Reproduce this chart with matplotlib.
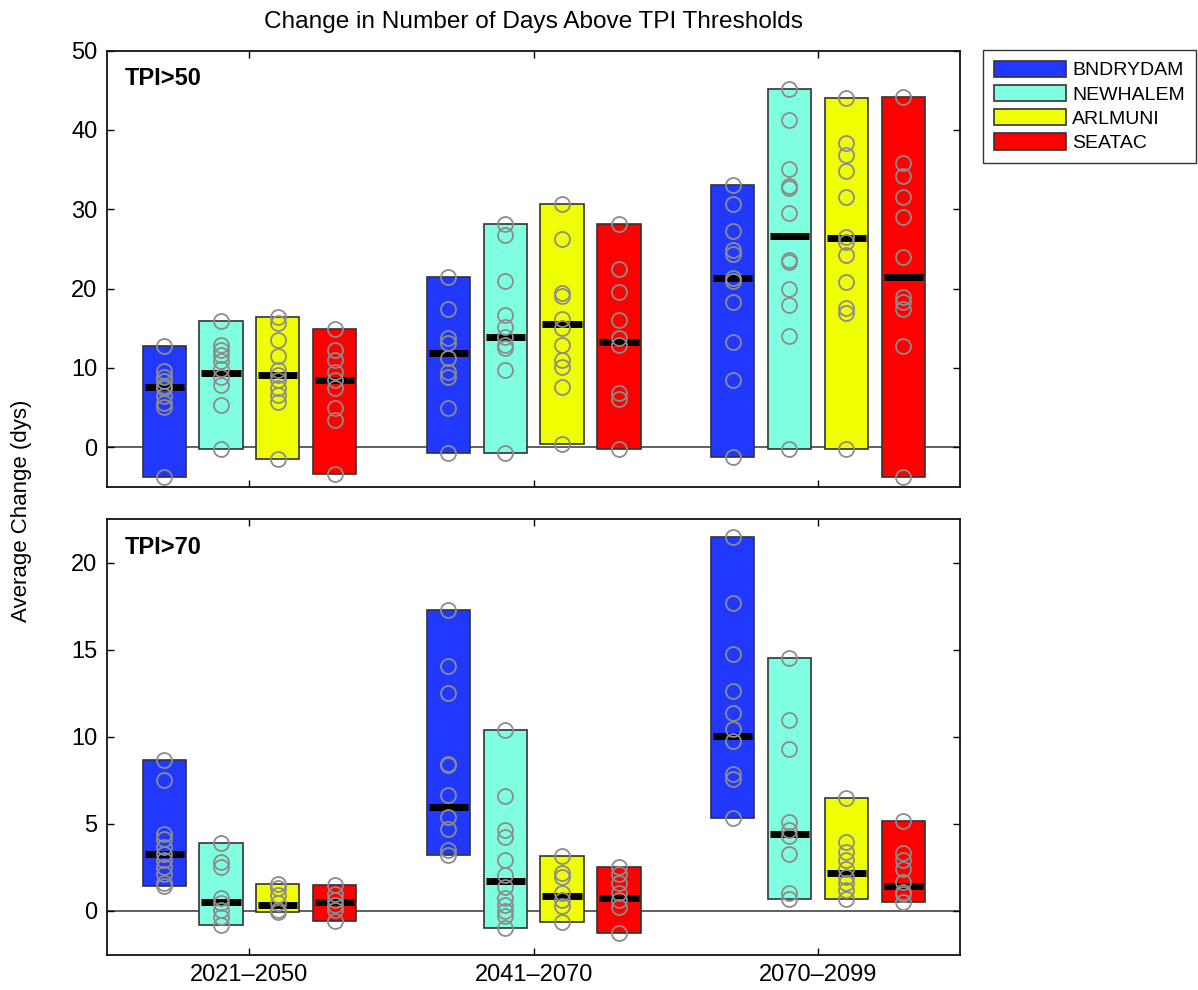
import matplotlib
matplotlib.use("Agg")
import matplotlib.pyplot as plt
from matplotlib.patches import Patch
import numpy as np

plt.rcParams['font.family'] = ['Liberation Sans', 'DejaVu Sans']

# ---------------- data ----------------
periods = ["2021\u20132050", "2041\u20132070", "2070\u20132099"]
stations = ["BNDRYDAM", "NEWHALEM", "ARLMUNI", "SEATAC"]
colors = ["#2138ff", "#7fffdf", "#f0ff00", "#ff0000"]

# TPI > 50 : individual model values per period
bndrydam_tpi50 = [
    [12.8, 9.6, 8.8, 8.3, 7.7, 7.4, 6.5, 5.5, 5.0, -3.8],
    [21.4, 17.4, 13.7, 13.1, 11.2, 9.5, 8.9, 4.9, -0.7],
    [33.1, 30.7, 27.3, 24.8, 24.4, 21.3, 21.0, 18.3, 13.2, 8.4, -1.3],
]
newhalem_tpi50 = [
    [15.9, 12.9, 12.2, 11.6, 10.8, 9.9, 8.9, 7.8, 5.3, -0.3],
    [28.2, 26.7, 21.0, 16.7, 15.2, 13.9, 12.9, 12.5, 9.7, -0.7],
    [45.2, 41.2, 35.1, 32.9, 32.7, 29.5, 23.6, 23.3, 19.9, 17.9, 14.0, -0.2],
]
arlmuni_tpi50 = [
    [16.4, 15.6, 13.5, 11.5, 9.7, 9.1, 8.5, 7.4, 6.6, 5.7, -1.5],
    [30.7, 26.3, 19.4, 19.0, 16.2, 15.0, 12.9, 11.0, 10.1, 7.6, 0.4],
    [44.0, 38.3, 36.9, 34.8, 31.6, 26.5, 25.9, 24.2, 20.8, 17.6, 16.9, -0.2],
]
seatac_tpi50 = [
    [14.9, 12.2, 11.0, 9.5, 8.5, 7.5, 4.9, 3.4, -3.4],
    [28.1, 22.4, 19.6, 16.0, 13.7, 12.9, 6.8, 6.1, -0.3],
    [44.2, 35.8, 34.2, 31.6, 29.0, 24.0, 18.9, 18.3, 17.4, 12.7, -3.8],
]
median_tpi50 = [
    [7.6, 11.9, 21.3],   # BNDRYDAM
    [9.4, 13.9, 26.6],   # NEWHALEM
    [9.1, 15.5, 26.4],   # ARLMUNI
    [8.5, 13.2, 21.5],   # SEATAC
]

# TPI > 70
bndrydam_tpi70 = [
    [8.7, 7.5, 4.4, 4.15, 3.7, 3.3, 2.9, 2.5, 2.15, 1.6, 1.45],
    [17.3, 14.06, 12.53, 8.44, 8.4, 6.67, 5.39, 4.72, 3.49, 3.2],
    [21.5, 17.68, 14.76, 12.63, 11.39, 10.44, 9.77, 7.87, 7.58, 5.35],
]
newhalem_tpi70 = [
    [3.9, 2.8, 2.5, 0.72, 0.44, 0.06, -0.32, -0.8],
    [10.4, 6.63, 4.63, 4.25, 2.91, 2.06, 1.39, 0.72, 0.34, 0.0, -0.3, -0.97],
    [14.53, 10.95, 9.3, 5.1, 4.63, 4.29, 3.3, 1.05, 0.69],
]
arlmuni_tpi70 = [
    [1.55, 1.3, 0.91, 0.44, 0.06, -0.08],
    [3.18, 2.21, 1.96, 1.01, 0.63, 0.3, -0.61],
    [6.5, 3.96, 3.39, 2.91, 2.44, 1.96, 1.58, 1.2, 0.69],
]
seatac_tpi70 = [
    [1.5, 1.0, 0.63, 0.34, 0.06, -0.55],
    [2.55, 2.15, 1.58, 1.01, 0.63, 0.25, -1.28],
    [5.16, 3.33, 2.91, 2.44, 1.68, 1.1, 1.0, 0.53],
]
median_tpi70 = [
    [3.3, 6.0, 10.06],
    [0.5, 1.73, 4.44],
    [0.36, 0.84, 2.21],
    [0.5, 0.72, 1.45],
]

panels = [
    ("TPI>50", [bndrydam_tpi50, newhalem_tpi50, arlmuni_tpi50, seatac_tpi50],
     median_tpi50, (-5, 50), [0, 10, 20, 30, 40, 50]),
    ("TPI>70", [bndrydam_tpi70, newhalem_tpi70, arlmuni_tpi70, seatac_tpi70],
     median_tpi70, (-2.5, 22.5), [0, 5, 10, 15, 20]),
]

# ---------------- plot ----------------
W, H = 1198, 990
fig = plt.figure(figsize=(W / 100, H / 100), dpi=100)

ax_rects = [
    [107.3 / W, 1 - 486.7 / H, 852.7 / W, 436.0 / H],
    [107.3 / W, 1 - 954.5 / H, 852.7 / W, 435.2 / H],
]

group_x = np.arange(1, len(periods) + 1)
offsets = [-0.3, -0.1, 0.1, 0.3]
bar_w = 0.152
med_half = 0.069
edge_col = "#333333"
circ_col = "#8c8c8c"
fs = 17

for pi, (label, station_data, medians, ylim, yticks) in enumerate(panels):
    ax = fig.add_axes(ax_rects[pi])
    ax.axhline(0, color="#444444", lw=1.2, zorder=1)
    for si, data in enumerate(station_data):
        xs = group_x + offsets[si]
        lows = [min(v) for v in data]
        highs = [max(v) for v in data]
        ax.bar(xs, np.array(highs) - np.array(lows), bottom=lows, width=bar_w,
               color=colors[si], edgecolor=edge_col, linewidth=1.2, zorder=2)
        ax.hlines(medians[si], xs - med_half, xs + med_half, color="black",
                  linewidth=5.0, zorder=3, capstyle="butt")
        for gi, vals in enumerate(data):
            ax.plot([xs[gi]] * len(vals), vals, linestyle="none", marker="o",
                    markersize=10.8, markerfacecolor="none",
                    markeredgecolor=circ_col, markeredgewidth=1.3, zorder=4)
    ax.set_xlim(0.5, 3.5)
    ax.set_ylim(*ylim)
    ax.set_yticks(yticks)
    ax.set_xticks(group_x)
    if pi == 1:
        ax.set_xticklabels(periods, fontsize=fs)
    else:
        ax.set_xticklabels([])
    ax.tick_params(direction="in", top=True, right=True, length=5, width=1,
                   labelsize=fs, pad=7)
    for sp in ax.spines.values():
        sp.set_linewidth(1.3)
        sp.set_color("#111111")
    ax.text(0.0208, 0.921, label, transform=ax.transAxes, fontsize=fs,
            fontweight="bold", va="baseline", ha="left")

fig.text(533.6 / W, 1 - 22 / H, "Change in Number of Days Above TPI Thresholds",
         ha="center", va="center", fontsize=17.6)
fig.text(22 / W, 1 - 511 / H, "Average Change (dys)", rotation=90,
         ha="center", va="center", fontsize=16)

handles = [Patch(facecolor=c, edgecolor=edge_col, linewidth=1.2) for c in colors]
leg = fig.legend(handles, stations, loc="upper left",
                 bbox_to_anchor=(983 / W, 1 - 50 / H), borderaxespad=0,
                 fontsize=14, frameon=True, fancybox=False,
                 handlelength=3.7, handleheight=0.9, handletextpad=0.35,
                 labelspacing=0.28, borderpad=0.55)
leg.get_frame().set_edgecolor("black")
leg.get_frame().set_linewidth(1.0)

fig.savefig("out.png", dpi=100)
